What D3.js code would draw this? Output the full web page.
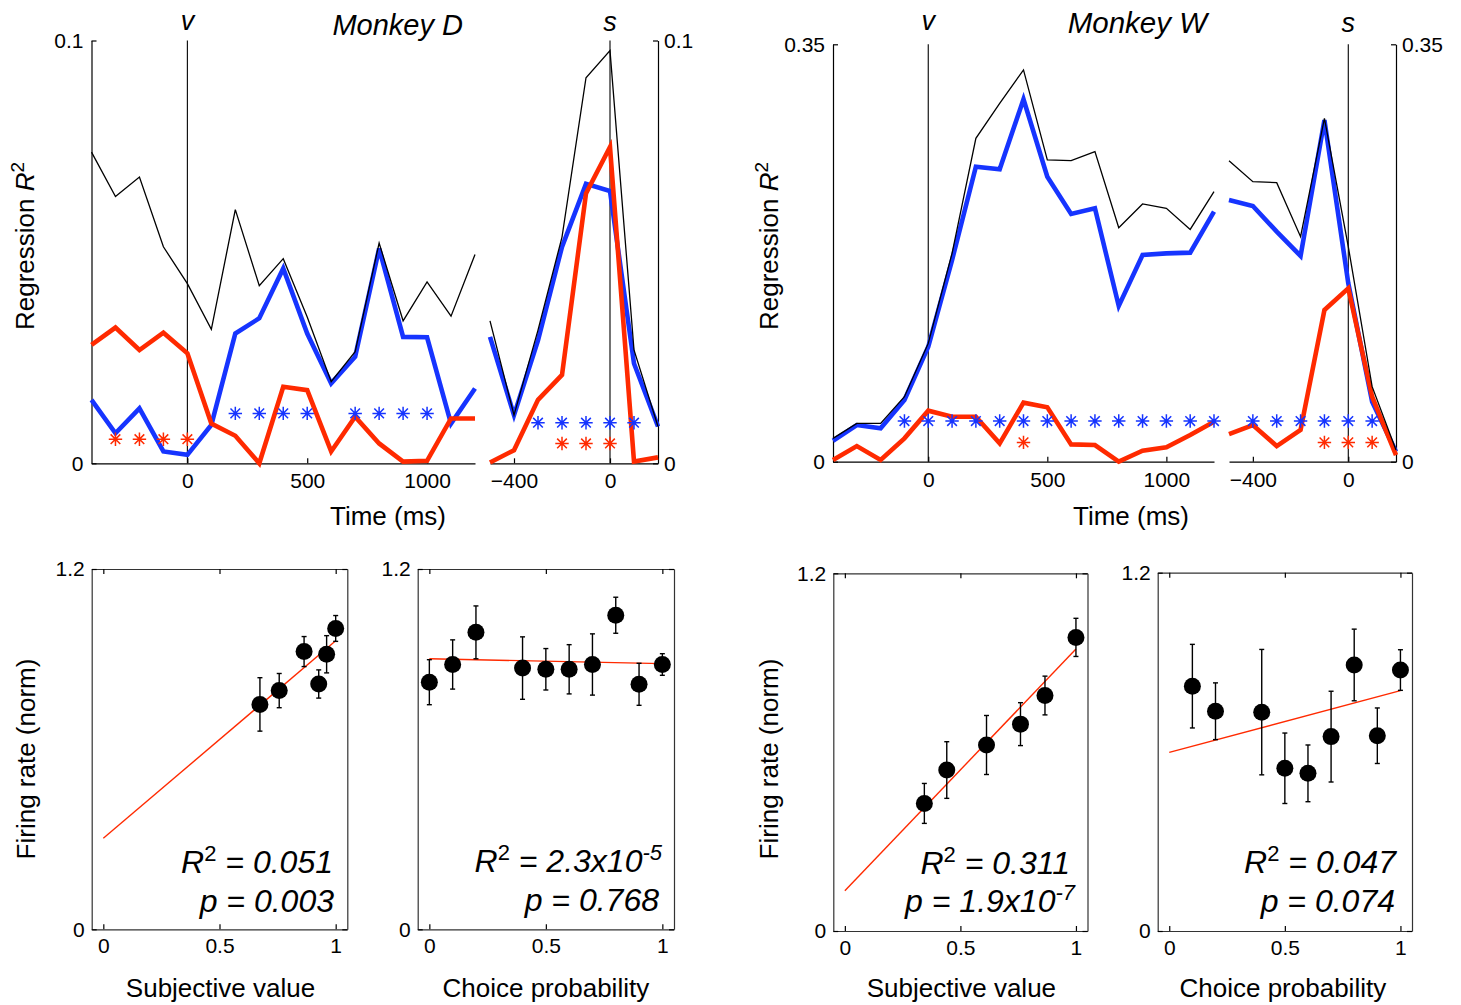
<!DOCTYPE html>
<html>
<head>
<meta charset="utf-8">
<script src="https://cdn.jsdelivr.net/npm/d3@7"></script>
<style>
  body { margin: 0; background: #fff; }
  svg text { font-family: "Liberation Sans", Arial, Helvetica, sans-serif; white-space: pre; }
</style>
</head>
<body>
<svg id="fig" width="1461" height="1005"></svg>
<script>
// ---------- Regression R² time courses ----------
// Monkey D, aligned to value onset (v)
const dVisTime   = [-400,-300,-200,-100,0,100,200,300,400,500,600,700,800,900,1000,1100,1200];
const dVisTotal  = [0.0736,0.0631,0.0677,0.0512,0.0425,0.0317,0.0600,0.0420,0.0484,0.0346,0.0193,0.0264,0.0521,0.0337,0.0429,0.0348,0.0494];
const dVisValue  = [0.0150,0.0071,0.0130,0.0028,0.0020,0.0091,0.0307,0.0343,0.0461,0.0307,0.0189,0.0252,0.0508,0.0299,0.0298,0.0094,0.0177];
const dVisChoice = [0.0280,0.0321,0.0268,0.0309,0.0260,0.0094,0.0065,0.0000,0.0181,0.0173,0.0028,0.0110,0.0047,0.0004,0.0006,0.0106,0.0106];
const dVisSigValue  = [200,300,400,500,700,800,900,1000];
const dVisSigChoice = [-300,-200,-100,0];

// Monkey D, aligned to saccade (s)
const dSacTime   = [-500,-400,-300,-200,-100,0,100,200];
const dSacTotal  = [0.0337,0.0114,0.0315,0.0535,0.0912,0.0976,0.0268,0.0087];
const dSacValue  = [0.0299,0.0114,0.0291,0.0512,0.0661,0.0644,0.0236,0.0087];
const dSacChoice = [0.0002,0.0031,0.0150,0.0209,0.0638,0.0748,0.0004,0.0014];
const dSacSigValue  = [-300,-200,-100,0,100];
const dSacSigChoice = [-200,-100,0];

// Monkey W, aligned to value onset (v)
const wVisTime   = [-400,-300,-200,-100,0,100,200,300,400,500,600,700,800,900,1000,1100,1200];
const wVisTotal  = [0.0196,0.0321,0.0321,0.0545,0.0992,0.1747,0.2712,0.3005,0.3285,0.2530,0.2524,0.2600,0.1962,0.2161,0.2125,0.1948,0.2264];
const wVisValue  = [0.0176,0.0307,0.0280,0.0517,0.0964,0.1691,0.2474,0.2452,0.3039,0.2390,0.2077,0.2125,0.1306,0.1733,0.1747,0.1753,0.2097];
const wVisChoice = [0.0014,0.0131,0.0014,0.0196,0.0428,0.0377,0.0377,0.0154,0.0495,0.0456,0.0145,0.0140,0.0000,0.0092,0.0120,0.0224,0.0335];
const wVisSigValue  = [-100,0,100,200,300,400,500,600,700,800,900,1000,1100,1200];
const wVisSigChoice = [400];

// Monkey W, aligned to saccade (s)
const wSacTime   = [-500,-400,-300,-200,-100,0,100,200];
const wSacTotal  = [0.2524,0.2348,0.2340,0.1887,0.2879,0.1803,0.0629,0.0098];
const wSacValue  = [0.2194,0.2144,0.1929,0.1725,0.2865,0.1496,0.0503,0.0084];
const wSacChoice = [0.0232,0.0307,0.0131,0.0266,0.1272,0.1454,0.0545,0.0056];
const wSacSigValue  = [-400,-300,-200,-100,0,100];
const wSacSigChoice = [-100,0,100];

// ---------- Firing rate vs. regressors ----------
const dValX   = [0.674,0.757,0.864,0.927,0.961,1.000];
const dValY   = [0.749,0.795,0.925,0.817,0.916,1.002];
const dValErr = [0.089,0.057,0.050,0.047,0.062,0.043];
const dValFit = [0.303,0.658];            // intercept, slope

const dCpX   = [0,0.1,0.2,0.4,0.5,0.6,0.7,0.8,0.9,1.0];
const dCpY   = [0.823,0.882,0.989,0.870,0.866,0.866,0.882,1.046,0.816,0.882];
const dCpErr = [0.075,0.082,0.088,0.104,0.069,0.082,0.102,0.060,0.070,0.036];
const dCpFit = [0.901,-0.016];

const wValX   = [0.344,0.441,0.613,0.760,0.866,1.000];
const wValY   = [0.428,0.540,0.624,0.694,0.790,0.985];
const wValErr = [0.067,0.095,0.099,0.072,0.065,0.064];
const wValFit = [0.135,0.811];

const wCpX   = [0.1,0.2,0.4,0.5,0.6,0.7,0.8,0.9,1.0];
const wCpY   = [0.820,0.736,0.733,0.545,0.528,0.651,0.891,0.654,0.874];
const wCpErr = [0.140,0.095,0.210,0.118,0.095,0.152,0.120,0.093,0.068];
const wCpFit = [0.598,0.207];

const timeTicksVis = [0,500,1000];
const timeTicksSac = [-400,0];
const frXTicks = [0,0.5,1];

// ---------- drawing ----------
const svg = d3.select("#fig");
const C_TOTAL = "#000000", C_VALUE = "#1634ff", C_CHOICE = "#ff2a00";
const TICK_FS = 21, LABEL_FS = 26;
const plain = d3.format("");

// MATLAB-style '*' marker: plus and cross overlaid
const asterisk = {
  draw(ctx, size) {
    const r = Math.sqrt(size) / 2, d = r * 0.72;
    ctx.moveTo(-r, 0); ctx.lineTo(r, 0);
    ctx.moveTo(0, -r); ctx.lineTo(0, r);
    ctx.moveTo(-d, -d); ctx.lineTo(d, d);
    ctx.moveTo(-d, d); ctx.lineTo(d, -d);
  }
};

function styleAxis(g) {
  g.selectAll("path.domain").attr("stroke", "#000").attr("stroke-width", 1.2);
  g.selectAll(".tick line").attr("stroke", "#000").attr("stroke-width", 1.2);
  g.selectAll(".tick text").attr("font-size", TICK_FS).attr("fill", "#000")
    .attr("font-family", '"Liberation Sans", Arial, sans-serif');
  g.attr("font-family", null);
}

function timePanel(p) {
  const x = d3.scaleLinear().domain(p.domain).range(p.xr);
  const y = d3.scaleLinear().domain([0, p.ymax]).range(p.yr);
  const g = svg.append("g");

  // event marker line
  g.append("line").attr("x1", x(0)).attr("x2", x(0))
    .attr("y1", y(0)).attr("y2", y(p.ymax))
    .attr("stroke", "#000").attr("stroke-width", 1.1);
  g.append("text").attr("x", x(0)).attr("y", p.eventY)
    .attr("text-anchor", "middle").attr("font-size", 27).attr("font-style", "italic")
    .text(p.event);

  const gx = g.append("g").attr("transform", `translate(0,${y(0)})`)
    .call(d3.axisBottom(x).tickValues(p.ticks).tickFormat(plain).tickSize(-5).tickSizeOuter(0).tickPadding(10));
  styleAxis(gx);

  if (p.yaxis === "left") {
    const gy = g.append("g").attr("transform", `translate(${x(p.domain[0])},0)`)
      .call(d3.axisLeft(y).tickValues([0, p.ymax]).tickFormat(plain).tickSize(-5).tickSizeOuter(0).tickPadding(8));
    styleAxis(gy);
  } else {
    const gy = g.append("g").attr("transform", `translate(${x(p.domain[1])},0)`)
      .call(d3.axisRight(y).tickValues([0, p.ymax]).tickFormat(plain).tickSize(-5).tickSizeOuter(0).tickPadding(6));
    styleAxis(gy);
  }

  const line = d3.line().x((d, i) => x(p.times[i])).y(d => y(d));
  g.append("path").datum(p.value).attr("d", line)
    .attr("fill", "none").attr("stroke", C_VALUE).attr("stroke-width", 4.6).attr("stroke-linejoin", "miter");
  g.append("path").datum(p.choice).attr("d", line)
    .attr("fill", "none").attr("stroke", C_CHOICE).attr("stroke-width", 4.6).attr("stroke-linejoin", "miter");
  g.append("path").datum(p.total).attr("d", line)
    .attr("fill", "none").attr("stroke", C_TOTAL).attr("stroke-width", 1.3);

  const sym = d3.symbol().type(asterisk).size(180);
  g.selectAll(null).data(p.sigV).join("path")
    .attr("transform", d => `translate(${x(d)},${y(p.rowV)})`)
    .attr("d", sym).attr("stroke", C_VALUE).attr("stroke-width", 1.5).attr("fill", "none");
  g.selectAll(null).data(p.sigC).join("path")
    .attr("transform", d => `translate(${x(d)},${y(p.rowC)})`)
    .attr("d", sym).attr("stroke", C_CHOICE).attr("stroke-width", 1.5).attr("fill", "none");
}

const topPanels = [
  { times: dVisTime, total: dVisTotal, value: dVisValue, choice: dVisChoice, sigV: dVisSigValue, sigC: dVisSigChoice,
    domain: [-400, 1200], xr: [91.5, 475], yr: [463.3, 40.5], ymax: 0.1, yaxis: "left", ticks: timeTicksVis,
    event: "v", eventY: 30, rowV: 0.0118, rowC: 0.0057 },
  { times: dSacTime, total: dSacTotal, value: dSacValue, choice: dSacChoice, sigV: dSacSigValue, sigC: dSacSigChoice,
    domain: [-500, 200], xr: [490, 658], yr: [463.3, 40.5], ymax: 0.1, yaxis: "right", ticks: timeTicksSac,
    event: "s", eventY: 31, rowV: 0.0096, rowC: 0.0047 },
  { times: wVisTime, total: wVisTotal, value: wVisValue, choice: wVisChoice, sigV: wVisSigValue, sigC: wVisSigChoice,
    domain: [-400, 1200], xr: [833, 1214], yr: [461.7, 44.3], ymax: 0.35, yaxis: "left", ticks: timeTicksVis,
    event: "v", eventY: 30, rowV: 0.0341, rowC: 0.0162 },
  { times: wSacTime, total: wSacTotal, value: wSacValue, choice: wSacChoice, sigV: wSacSigValue, sigC: wSacSigChoice,
    domain: [-500, 200], xr: [1229, 1396], yr: [461.7, 44.3], ymax: 0.35, yaxis: "right", ticks: timeTicksSac,
    event: "s", eventY: 32, rowV: 0.0341, rowC: 0.0162 }
];
topPanels.forEach(timePanel);

// titles
svg.append("text").attr("x", 463).attr("y", 35).attr("text-anchor", "end")
  .attr("font-size", 29).attr("font-style", "italic").text("Monkey D");
svg.append("text").attr("x", 1207).attr("y", 33).attr("text-anchor", "end")
  .attr("font-size", 29.5).attr("font-style", "italic").text("Monkey W");

// axis titles for the time courses
[[388, 525], [1131, 525]].forEach(([cx, cy]) => {
  svg.append("text").attr("x", cx).attr("y", cy).attr("text-anchor", "middle")
    .attr("font-size", LABEL_FS).text("Time (ms)");
});
[[34, 246], [778, 246]].forEach(([bx, cy]) => {
  const t = svg.append("text").attr("transform", `translate(${bx},${cy}) rotate(-90)`)
    .attr("text-anchor", "middle").attr("font-size", LABEL_FS);
  t.append("tspan").text("Regression ");
  t.append("tspan").attr("font-style", "italic").text("R");
  t.append("tspan").attr("font-size", 19).attr("dy", -10).text("2");
});
[[35, 759], [778, 759]].forEach(([bx, cy]) => {
  svg.append("text").attr("transform", `translate(${bx},${cy}) rotate(-90)`)
    .attr("text-anchor", "middle").attr("font-size", LABEL_FS).text("Firing rate (norm)");
});

// scatter panels
function statLine(g, xr, yb, pre, main, sup) {
  const t = g.append("text").attr("x", xr).attr("y", yb).attr("text-anchor", "end")
    .attr("font-size", 32).attr("font-style", "italic");
  t.append("tspan").text(pre);
  if (pre === "R") {
    t.append("tspan").attr("font-size", 22).attr("font-style", "normal").attr("dy", -12).text("2");
    t.append("tspan").attr("dy", 12).text(main);
  } else {
    t.append("tspan").text(main);
  }
  if (sup) t.append("tspan").attr("font-size", 22).attr("dy", -12).text(sup);
}

function frPanel(p) {
  const x = d3.scaleLinear().domain([-0.05, 1.05]).range([p.left, p.right]);
  const y = d3.scaleLinear().domain([0, 1.2]).range([p.bottom, p.top]);
  const g = svg.append("g");

  const gb = g.append("g").attr("transform", `translate(0,${p.bottom})`)
    .call(d3.axisBottom(x).tickValues(frXTicks).tickFormat(plain).tickSize(-5).tickSizeOuter(0).tickPadding(9));
  styleAxis(gb);
  const gt = g.append("g").attr("transform", `translate(0,${p.top})`)
    .call(d3.axisTop(x).tickValues(frXTicks).tickFormat("").tickSize(-5).tickSizeOuter(0));
  styleAxis(gt);
  const gl = g.append("g").attr("transform", `translate(${p.left},0)`)
    .call(d3.axisLeft(y).tickValues([0, 1.2]).tickFormat(plain).tickSize(-5).tickSizeOuter(0).tickPadding(7));
  styleAxis(gl);
  const gr = g.append("g").attr("transform", `translate(${p.right},0)`)
    .call(d3.axisRight(y).tickValues([0, 1.2]).tickFormat("").tickSize(-5).tickSizeOuter(0));
  styleAxis(gr);
  g.selectAll("path.domain").attr("stroke", "#333");

  // regression fit
  const fit = d3.line().x(d => x(d)).y(d => y(p.fit[0] + p.fit[1] * d));
  g.append("path").datum([0, 1]).attr("d", fit)
    .attr("stroke", C_CHOICE).attr("stroke-width", 1.4).attr("fill", "none");

  const pts = p.xs.map((v, i) => ({ x: v, y: p.ys[i], e: p.err[i] }));
  // error bars
  const eb = g.selectAll(null).data(pts).join("g").attr("stroke", "#000").attr("stroke-width", 1.4);
  eb.append("line").attr("x1", d => x(d.x)).attr("x2", d => x(d.x))
    .attr("y1", d => y(d.y - d.e)).attr("y2", d => y(d.y + d.e));
  eb.append("line").attr("x1", d => x(d.x) - 2.5).attr("x2", d => x(d.x) + 2.5)
    .attr("y1", d => y(d.y - d.e)).attr("y2", d => y(d.y - d.e));
  eb.append("line").attr("x1", d => x(d.x) - 2.5).attr("x2", d => x(d.x) + 2.5)
    .attr("y1", d => y(d.y + d.e)).attr("y2", d => y(d.y + d.e));
  g.selectAll(null).data(pts).join("circle")
    .attr("cx", d => x(d.x)).attr("cy", d => y(d.y)).attr("r", 8.5).attr("fill", "#000");

  statLine(g, p.statX[0], p.statY[0], "R", p.stat[0], p.stat[1]);
  statLine(g, p.statX[1], p.statY[1], "p", p.stat[2], p.stat[3]);

  g.append("text").attr("x", (x(0) + x(1)) / 2 + p.labelShift).attr("y", 997)
    .attr("text-anchor", "middle").attr("font-size", LABEL_FS).text(p.xlabel);
}

const frPanels = [
  { xs: dValX, ys: dValY, err: dValErr, fit: dValFit, left: 91.7, right: 347.3, top: 569, bottom: 929.3,
    xlabel: "Subjective value", labelShift: 1, stat: [" = 0.051", null, " = 0.003", null],
    statX: [333, 334], statY: [873, 912] },
  { xs: dCpX, ys: dCpY, err: dCpErr, fit: dCpFit, left: 417.7, right: 674, top: 569, bottom: 929.3,
    xlabel: "Choice probability", labelShift: 0, stat: [" = 2.3x10", "-5", " = 0.768", null],
    statX: [662, 659], statY: [872, 911] },
  { xs: wValX, ys: wValY, err: wValErr, fit: wValFit, left: 833.3, right: 1087.5, top: 573.3, bottom: 931,
    xlabel: "Subjective value", labelShift: 1, stat: [" = 0.311", null, " = 1.9x10", "-7"],
    statX: [1070, 1075], statY: [874, 912] },
  { xs: wCpX, ys: wCpY, err: wCpErr, fit: wCpFit, left: 1157.7, right: 1412, top: 572.7, bottom: 931,
    xlabel: "Choice probability", labelShift: -2, stat: [" = 0.047", null, " = 0.074", null],
    statX: [1396, 1395], statY: [873, 912] }
];
frPanels.forEach(frPanel);
</script>
</body>
</html>
